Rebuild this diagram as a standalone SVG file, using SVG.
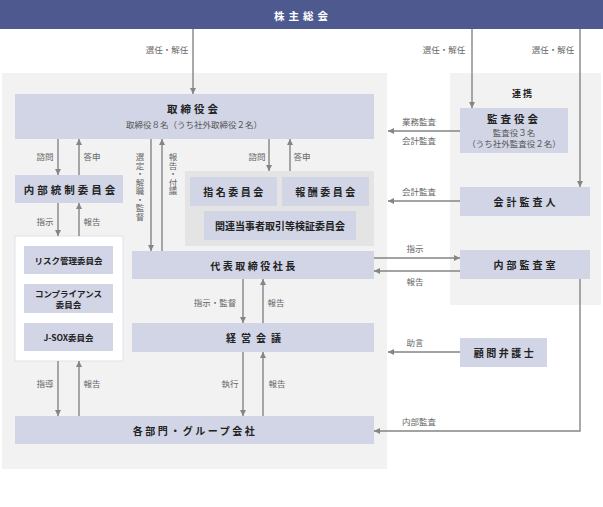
<svg xmlns="http://www.w3.org/2000/svg" width="603" height="507" viewBox="0 0 603 507">
<defs>
<marker id="ah" viewBox="0 0 10 10" refX="10" refY="5" markerWidth="6" markerHeight="6" markerUnits="userSpaceOnUse" orient="auto">
<path d="M0,0 L10,5 L0,10 z" fill="#858585"/>
</marker>
<style>
text{font-family:"Noto Sans CJK JP","Noto Sans",sans-serif;dominant-baseline:central;text-anchor:middle}
.box{fill:#d1d5e6}
.t{font-size:10.5px;font-weight:bold;fill:#222}
.ts{font-size:8.5px;font-weight:bold;fill:#222}
.sub{font-size:8.5px;fill:#555}
.lb{font-size:8.5px;fill:#666}
.vl{font-size:8.5px;fill:#666;writing-mode:vertical-rl;text-anchor:start}
.c line,.c path{stroke:#858585;stroke-width:1.4;fill:none;marker-end:url(#ah)}
</style>
</defs>
<rect x="0" y="0" width="603" height="507" fill="#ffffff"/>
<rect x="2" y="73" width="385" height="396" fill="#f2f2f2"/>
<rect x="450" y="73" width="151" height="232" fill="#f2f2f2"/>

<g id="shareholders">
<rect x="0" y="0" width="603" height="29" fill="#4e5a8f"/>
<text x="303" y="15" class="t" fill="#fff" style="fill:#fff;letter-spacing:4px">株主総会</text>
</g>

<g id="board">
<rect class="box" x="15" y="94" width="359" height="45"/>
<text x="194" y="108" class="t" style="letter-spacing:3px">取締役会</text>
<text x="194" y="124" class="sub">取締役８名（うち社外取締役２名）</text>
</g>

<g id="internal-control">
<rect class="box" x="15" y="175" width="108" height="28"/>
<text x="71" y="189" class="t" style="letter-spacing:3px">内部統制委員会</text>
</g>

<g id="sub-committees">
<rect x="15" y="236" width="108" height="125" fill="#ffffff" stroke="#dfe2ee" stroke-width="1"/>
<g id="risk">
<rect class="box" x="24" y="246" width="89" height="28"/>
<text x="68.5" y="260" class="ts">リスク管理委員会</text>
</g>
<g id="compliance">
<rect class="box" x="24" y="284" width="89" height="29"/>
<text x="68.5" y="293" class="ts">コンプライアンス</text>
<text x="68.5" y="304" class="ts">委員会</text>
</g>
<g id="jsox">
<rect class="box" x="24" y="323" width="89" height="28"/>
<text x="68.5" y="337" class="ts">J-SOX委員会</text>
</g>
</g>

<g id="committee-group">
<rect x="185" y="171" width="189" height="75" fill="#e4e4e4"/>
<g id="nomination">
<rect class="box" x="190" y="177" width="87" height="29"/>
<text x="234.5" y="191.5" class="t" style="font-size:10px;letter-spacing:2.5px">指名委員会</text>
</g>
<g id="remuneration">
<rect class="box" x="282" y="177" width="87" height="29"/>
<text x="326.5" y="191.5" class="t" style="font-size:10px;letter-spacing:2.5px">報酬委員会</text>
</g>
<g id="related-party">
<rect class="box" x="204" y="211" width="152" height="29"/>
<text x="280" y="225.5" class="t" style="font-size:10px">関連当事者取引等検証委員会</text>
</g>
</g>

<g id="president">
<rect class="box" x="132" y="251" width="242" height="28"/>
<text x="254" y="265" class="t" style="font-size:10px;letter-spacing:2.5px">代表取締役社長</text>
</g>

<g id="management-meeting">
<rect class="box" x="132" y="323" width="242" height="29"/>
<text x="256" y="337.5" class="t" style="font-size:10px;letter-spacing:5px">経営会議</text>
</g>

<g id="departments">
<rect class="box" x="15" y="416" width="359" height="28"/>
<text x="195" y="430" class="t" style="font-size:10px;letter-spacing:2.5px">各部門・グループ会社</text>
</g>

<g id="renkei">
<text x="523" y="93" class="t" style="font-size:9px;letter-spacing:2px">連携</text>
</g>

<g id="auditors">
<rect class="box" x="460" y="108" width="108" height="45"/>
<text x="514" y="118" class="t" style="letter-spacing:3px">監査役会</text>
<text x="514" y="132" class="sub">監査役３名</text>
<text x="514" y="143" class="sub">（うち社外監査役２名）</text>
</g>

<g id="accounting-auditor">
<rect class="box" x="460" y="187" width="130" height="29"/>
<text x="526" y="201.5" class="t" style="font-size:10px;letter-spacing:3px">会計監査人</text>
</g>

<g id="internal-audit">
<rect class="box" x="460" y="250" width="130" height="29"/>
<text x="526" y="264.5" class="t" style="font-size:10px;letter-spacing:3px">内部監査室</text>
</g>

<g id="lawyer">
<rect class="box" x="460" y="338" width="87" height="29"/>
<text x="505" y="352.5" class="t" style="font-size:10px;letter-spacing:2.5px">顧問弁護士</text>
</g>

<g id="connectors" class="c">
<line x1="193" y1="29" x2="193" y2="94"/>
<line x1="472" y1="29" x2="472" y2="108"/>
<line x1="580" y1="29" x2="580" y2="187"/>
<line x1="58" y1="139" x2="58" y2="175"/>
<line x1="79" y1="175" x2="79" y2="139"/>
<line x1="58" y1="203" x2="58" y2="236"/>
<line x1="79" y1="236" x2="79" y2="203"/>
<line x1="151" y1="139" x2="151" y2="251"/>
<line x1="162" y1="251" x2="162" y2="139"/>
<line x1="269" y1="139" x2="269" y2="171"/>
<line x1="290" y1="171" x2="290" y2="139"/>
<line x1="243" y1="279" x2="243" y2="323"/>
<line x1="263" y1="323" x2="263" y2="279"/>
<line x1="243" y1="352" x2="243" y2="416"/>
<line x1="263" y1="416" x2="263" y2="352"/>
<line x1="58" y1="361" x2="58" y2="416"/>
<line x1="79" y1="416" x2="79" y2="361"/>
<line x1="460" y1="131" x2="388" y2="131"/>
<line x1="460" y1="201" x2="388" y2="201"/>
<line x1="374" y1="258" x2="460" y2="258"/>
<line x1="460" y1="271" x2="374" y2="271"/>
<line x1="460" y1="352" x2="388" y2="352"/>
<path d="M580,279 V431 H374"/>
</g>

<g id="labels">
<text x="167" y="49" class="lb">選任・解任</text>
<text x="444" y="49" class="lb">選任・解任</text>
<text x="553" y="49" class="lb">選任・解任</text>
<text x="45" y="156" class="lb">諮問</text>
<text x="92" y="156" class="lb">答申</text>
<text x="45" y="221" class="lb">指示</text>
<text x="92" y="221" class="lb">報告</text>
<text x="257" y="156" class="lb">諮問</text>
<text x="302" y="156" class="lb">答申</text>
<text x="140" y="153" class="vl">選定・解職・監督</text>
<text x="173" y="153" class="vl">報告・付議</text>
<text x="215" y="302" class="lb">指示・監督</text>
<text x="276" y="302" class="lb">報告</text>
<text x="230" y="383" class="lb">執行</text>
<text x="277" y="383" class="lb">報告</text>
<text x="45" y="383" class="lb">指導</text>
<text x="92" y="383" class="lb">報告</text>
<text x="419" y="121" class="lb">業務監査</text>
<text x="419" y="140" class="lb">会計監査</text>
<text x="419" y="191" class="lb">会計監査</text>
<text x="415" y="248" class="lb">指示</text>
<text x="415" y="281" class="lb">報告</text>
<text x="415" y="342" class="lb">助言</text>
<text x="419" y="421" class="lb">内部監査</text>
</g>
</svg>
